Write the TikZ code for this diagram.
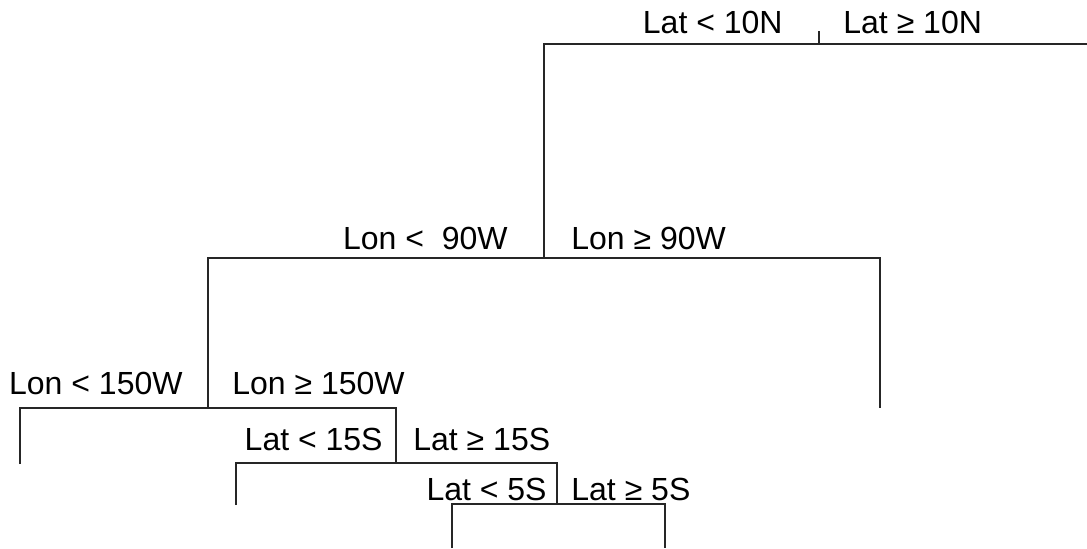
\documentclass[tikz,border=0pt]{standalone}
\usepackage{fontspec}
\setmainfont{Liberation Sans}
\usepackage{xcolor}
\usepackage{tikz}

\begin{document}
\begin{tikzpicture}[x=0.5pt, y=-0.5pt, every node/.style={inner sep=0pt, font=\fontsize{16}{19}\selectfont}, branch/.style={line width=1pt, draw=black!85}]
  \useasboundingbox (0,0) rectangle (1087,548);

  % Lat 10N split
  \coordinate (latNtop) at (819,31);
  \coordinate (latN) at (819,44);
  \coordinate (latNL) at (544,44);
  \coordinate (latNR) at (1087,44);

  % Lon 90W split
  \coordinate (lonW) at (544,258);
  \coordinate (lonWL) at (208,258);
  \coordinate (lonWR) at (880,258);
  \coordinate (lonWRend) at (880,408);

  % Lon 150W split
  \coordinate (lonE) at (208,408);
  \coordinate (lonEL) at (20,408);
  \coordinate (lonER) at (396,408);
  \coordinate (lonELend) at (20,464);

  % Lat 15S split
  \coordinate (latS) at (396,463);
  \coordinate (latSL) at (236,463);
  \coordinate (latSR) at (557,463);
  \coordinate (latSLend) at (236,505);

  % Lat 5S split
  \coordinate (latF) at (557,504);
  \coordinate (latFL) at (452,504);
  \coordinate (latFR) at (665,504);
  \coordinate (latFLend) at (452,548);
  \coordinate (latFRend) at (665,548);

  % Labels
  \node[anchor=base east] (ltN) at (783,33) {Lat < 10N};
  \node[anchor=base west] (geN) at (843,33) {Lat ≥ 10N};
  \node[anchor=base east] (ltW) at (508,249) {Lon <~ 90W};
  \node[anchor=base west] (geW) at (571,249) {Lon ≥ 90W};
  \node[anchor=base east] (ltE) at (183,394) {Lon < 150W};
  \node[anchor=base west] (geE) at (232,394) {Lon ≥ 150W};
  \node[anchor=base east] (ltS) at (383,450) {Lat < 15S};
  \node[anchor=base west] (geS) at (413,450) {Lat ≥ 15S};
  \node[anchor=base east] (ltF) at (547,500) {Lat < 5S};
  \node[anchor=base west] (geF) at (571,500) {Lat ≥ 5S};

  % Branches
  \draw[branch] (latNtop) -- (latN);
  \draw[branch] (lonW) -- (latNL) -- (latNR);
  \draw[branch] (lonE) -- (lonWL) -- (lonWR) -- (lonWRend);
  \draw[branch] (lonELend) -- (lonEL) -- (lonER) -- (latS);
  \draw[branch] (latSLend) -- (latSL) -- (latSR) -- (latF);
  \draw[branch] (latFLend) -- (latFL) -- (latFR) -- (latFRend);
\end{tikzpicture}
\end{document}
